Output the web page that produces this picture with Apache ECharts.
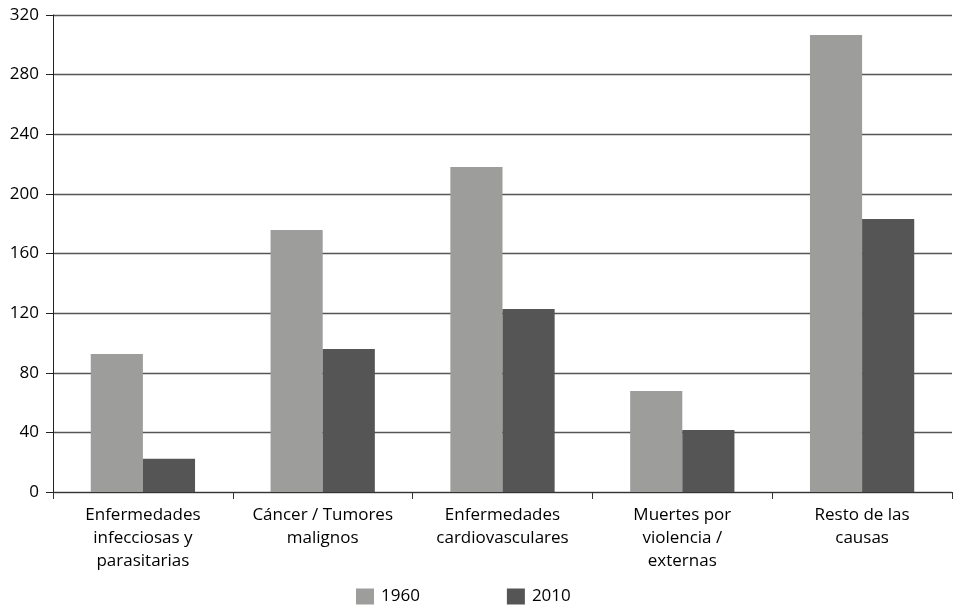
<!DOCTYPE html>
<html>
<head>
<meta charset="utf-8">
<script src="https://cdn.jsdelivr.net/npm/echarts@6/dist/echarts.min.js"></script>
<style>html,body{margin:0;padding:0;background:#fff}#c{width:954px;height:610px}</style>
</head>
<body>
<div id="c"></div>
<script>
const categories = [
  "Enfermedades\ninfecciosas y\nparasitarias",
  "Cáncer / Tumores\nmalignos",
  "Enfermedades\ncardiovasculares",
  "Muertes por\nviolencia /\nexternas",
  "Resto de las\ncausas"
];
const values1960 = [92.6, 175.8, 218.0, 67.8, 306.6];
const values2010 = [22.3, 95.9, 122.8, 41.6, 183.1];
const seriesNames = ["1960", "2010"];
const yTicks = { min: 0, max: 320, interval: 40 };

const font = "'Open Sans', 'Noto Sans', sans-serif";
const chart = echarts.init(document.getElementById('c'), null, { renderer: 'canvas' });
chart.setOption({
  animation: false,
  backgroundColor: '#ffffff',
  textStyle: { fontFamily: font },
  grid: { left: 53, right: 2, top: 15, bottom: 118, containLabel: false },
  legend: {
    top: 583,
    left: 351,
    itemWidth: 18,
    itemHeight: 16,
    itemGap: 87,
    icon: 'rect',
    textStyle: { fontFamily: font, fontSize: 17, color: '#000', padding: [8, 0, 0, 2] },
    data: seriesNames
  },
  xAxis: {
    type: 'category',
    data: categories,
    axisLine: { lineStyle: { color: '#333', width: 1 } },
    axisTick: { show: true, length: 7, lineStyle: { color: '#333' } },
    axisLabel: { fontFamily: font, fontSize: 17, color: '#000', margin: 12, lineHeight: 23, interval: 0 }
  },
  yAxis: {
    type: 'value',
    min: yTicks.min, max: yTicks.max, interval: yTicks.interval,
    axisLine: { show: true, lineStyle: { color: '#222', width: 1 } },
    axisTick: { show: true, length: 7, lineStyle: { color: '#222' } },
    axisLabel: { fontFamily: font, fontSize: 17, color: '#000', margin: 14 },
    splitLine: { show: true, lineStyle: { color: '#555', width: 1.3 } }
  },
  series: [
    { name: seriesNames[0], type: 'bar', data: values1960, itemStyle: { color: '#9d9d9c' }, barGap: '0%', barCategoryGap: '42%' },
    { name: seriesNames[1], type: 'bar', data: values2010, itemStyle: { color: '#555555' }, barGap: '0%', barCategoryGap: '42%' }
  ]
});
</script>
</body>
</html>
